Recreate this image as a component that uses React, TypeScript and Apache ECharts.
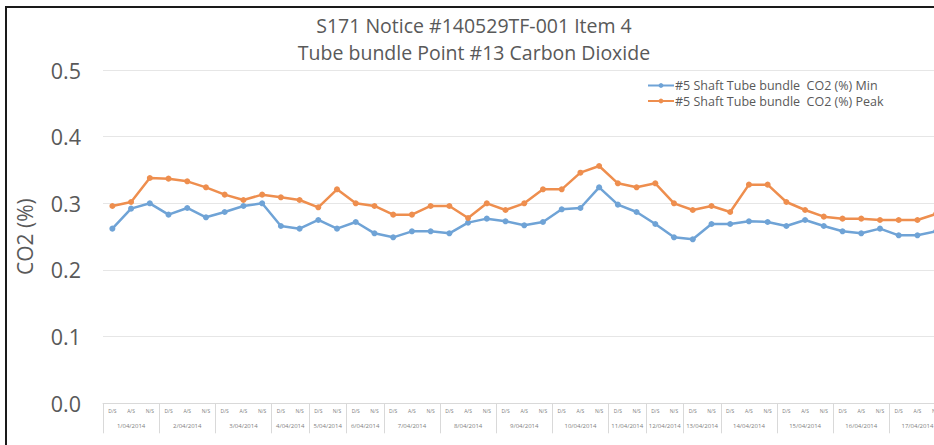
import React, { useEffect, useRef } from "react";
import * as echarts from "echarts";

const titleLines = ["S171 Notice #140529TF-001 Item 4", "Tube bundle Point #13 Carbon Dioxide"];
const dates = [
  "1/04/2014", "2/04/2014", "3/04/2014", "4/04/2014", "5/04/2014", "6/04/2014",
  "7/04/2014", "8/04/2014", "9/04/2014", "10/04/2014", "11/04/2014", "12/04/2014",
  "13/04/2014", "14/04/2014", "15/04/2014", "16/04/2014", "17/04/2014",
];
const full = ["D/S", "A/S", "N/S"];
const short = ["D/S", "N/S"];
const shiftsPerDate = [
  full, full, full, short, short, short,
  full, full, full, full, short, short,
  short, full, full, full, full,
];
const minName = "#5 Shaft Tube bundle  CO2 (%) Min";
const peakName = "#5 Shaft Tube bundle  CO2 (%) Peak";
const minValues = [
  0.262, 0.292, 0.300, 0.283, 0.293, 0.279, 0.287, 0.296, 0.300,
  0.266, 0.262, 0.275, 0.262, 0.272, 0.255,
  0.249, 0.258, 0.258, 0.255, 0.271, 0.277, 0.273, 0.267, 0.272, 0.291, 0.293, 0.324,
  0.298, 0.287, 0.269, 0.249, 0.246, 0.269,
  0.269, 0.273, 0.272, 0.266, 0.275, 0.266, 0.258, 0.255, 0.262, 0.252, 0.252, 0.258,
];
const peakValues = [
  0.296, 0.302, 0.338, 0.337, 0.333, 0.324, 0.313, 0.305, 0.313,
  0.309, 0.305, 0.294, 0.321, 0.300, 0.296,
  0.283, 0.283, 0.296, 0.296, 0.278, 0.300, 0.290, 0.300, 0.321, 0.321, 0.346, 0.356,
  0.330, 0.324, 0.330, 0.300, 0.290, 0.296,
  0.287, 0.328, 0.328, 0.302, 0.290, 0.280, 0.277, 0.277, 0.275, 0.275, 0.275, 0.284,
];
const yTicks = [0, 0.1, 0.2, 0.3, 0.4, 0.5];

export default function App() {
  const ref = useRef<HTMLDivElement>(null);
  useEffect(() => {
    if (!ref.current) return;
    const chart = echarts.init(ref.current, null, { renderer: "svg" });
    const categories: string[] = [];
    const boundaries: number[] = [0];
    const centers: number[] = [];
    let pos = 0;
    shiftsPerDate.forEach((s) => {
      centers.push(pos + s.length / 2);
      s.forEach((x) => categories.push(x));
      pos += s.length;
      boundaries.push(pos);
    });
    const font = "'Open Sans', 'Noto Sans', sans-serif";
    chart.setOption({
      animation: false,
      backgroundColor: "#ffffff",
      title: {
        text: titleLines.join("\n"),
        left: "center",
        top: 12,
        padding: 0,
        textStyle: { fontFamily: font, fontSize: 19.5, fontWeight: "normal", color: "#595959", lineHeight: 27 },
      },
      legend: {
        orient: "vertical",
        left: 647,
        top: 79,
        padding: 0,
        itemGap: 2.5,
        itemWidth: 26,
        itemHeight: 6,
        textStyle: { fontFamily: font, fontSize: 12.5, lineHeight: 13, color: "#595959", padding: [0, 0, 0, -4] },
        data: [minName, peakName],
      },
      grid: { left: 103, right: 2.5, top: 70, bottom: 41.7 },
      xAxis: [
        {
          type: "category",
          data: categories,
          boundaryGap: true,
          axisLine: { show: true, lineStyle: { color: "#d9d9d9" } },
          axisTick: { show: false },
          axisLabel: { interval: 0, fontSize: 5, color: "#808080", margin: 5, fontFamily: font },
        },
        {
          type: "value",
          position: "bottom",
          min: 0,
          max: categories.length,
          splitLine: { show: false },
          axisLine: { show: false },
          axisTick: { show: true, length: 30, customValues: boundaries, lineStyle: { color: "#d9d9d9" } },
          axisLabel: {
            show: true,
            customValues: centers,
            margin: 20,
            fontSize: 6,
            color: "#808080",
            fontFamily: font,
            formatter: (v: number) => {
              const i = centers.findIndex((c) => Math.abs(c - v) < 1e-6);
              return i >= 0 ? dates[i] : "";
            },
          },
        },
      ],
      yAxis: {
        type: "value",
        min: 0,
        max: 0.5,
        interval: 0.1,
        name: "CO2 (%)",
        nameLocation: "middle",
        nameGap: 68,
        nameTextStyle: { fontFamily: font, fontSize: 21, color: "#595959" },
        axisLine: { show: false },
        axisTick: { show: false },
        splitLine: { lineStyle: { color: "#e6e6e6" } },
        axisLabel: {
          fontFamily: font,
          fontSize: 21.5,
          color: "#595959",
          margin: 22,
          formatter: (v: number) => {
            const t = yTicks.find((x) => Math.abs(x - v) < 1e-6);
            return (t !== undefined ? t : v).toFixed(1);
          },
        },
      },
      series: [
        {
          name: minName,
          type: "line",
          xAxisIndex: 0,
          data: minValues,
          symbol: "circle",
          symbolSize: 6,
          itemStyle: { color: "#6FA3D6" },
          lineStyle: { width: 2.5, color: "#6FA3D6" },
        },
        {
          name: peakName,
          type: "line",
          xAxisIndex: 0,
          data: peakValues,
          symbol: "circle",
          symbolSize: 6,
          itemStyle: { color: "#EE8E4E" },
          lineStyle: { width: 2.5, color: "#EE8E4E" },
        },
      ],
    });
    return () => chart.dispose();
  }, []);
  return (
    <div style={{ position: "fixed", left: 0, top: 0, width: 934, height: 445, overflow: "hidden", background: "#fff" }}>
      <div ref={ref} style={{ position: "absolute", left: 0, top: 0, width: 948, height: 445 }} />
      <div
        style={{
          position: "absolute",
          left: 5,
          top: 6,
          width: 940,
          height: 450,
          borderLeft: "2px solid #1a1a1a",
          borderTop: "2px solid #1a1a1a",
          pointerEvents: "none",
        }}
      />
    </div>
  );
}
